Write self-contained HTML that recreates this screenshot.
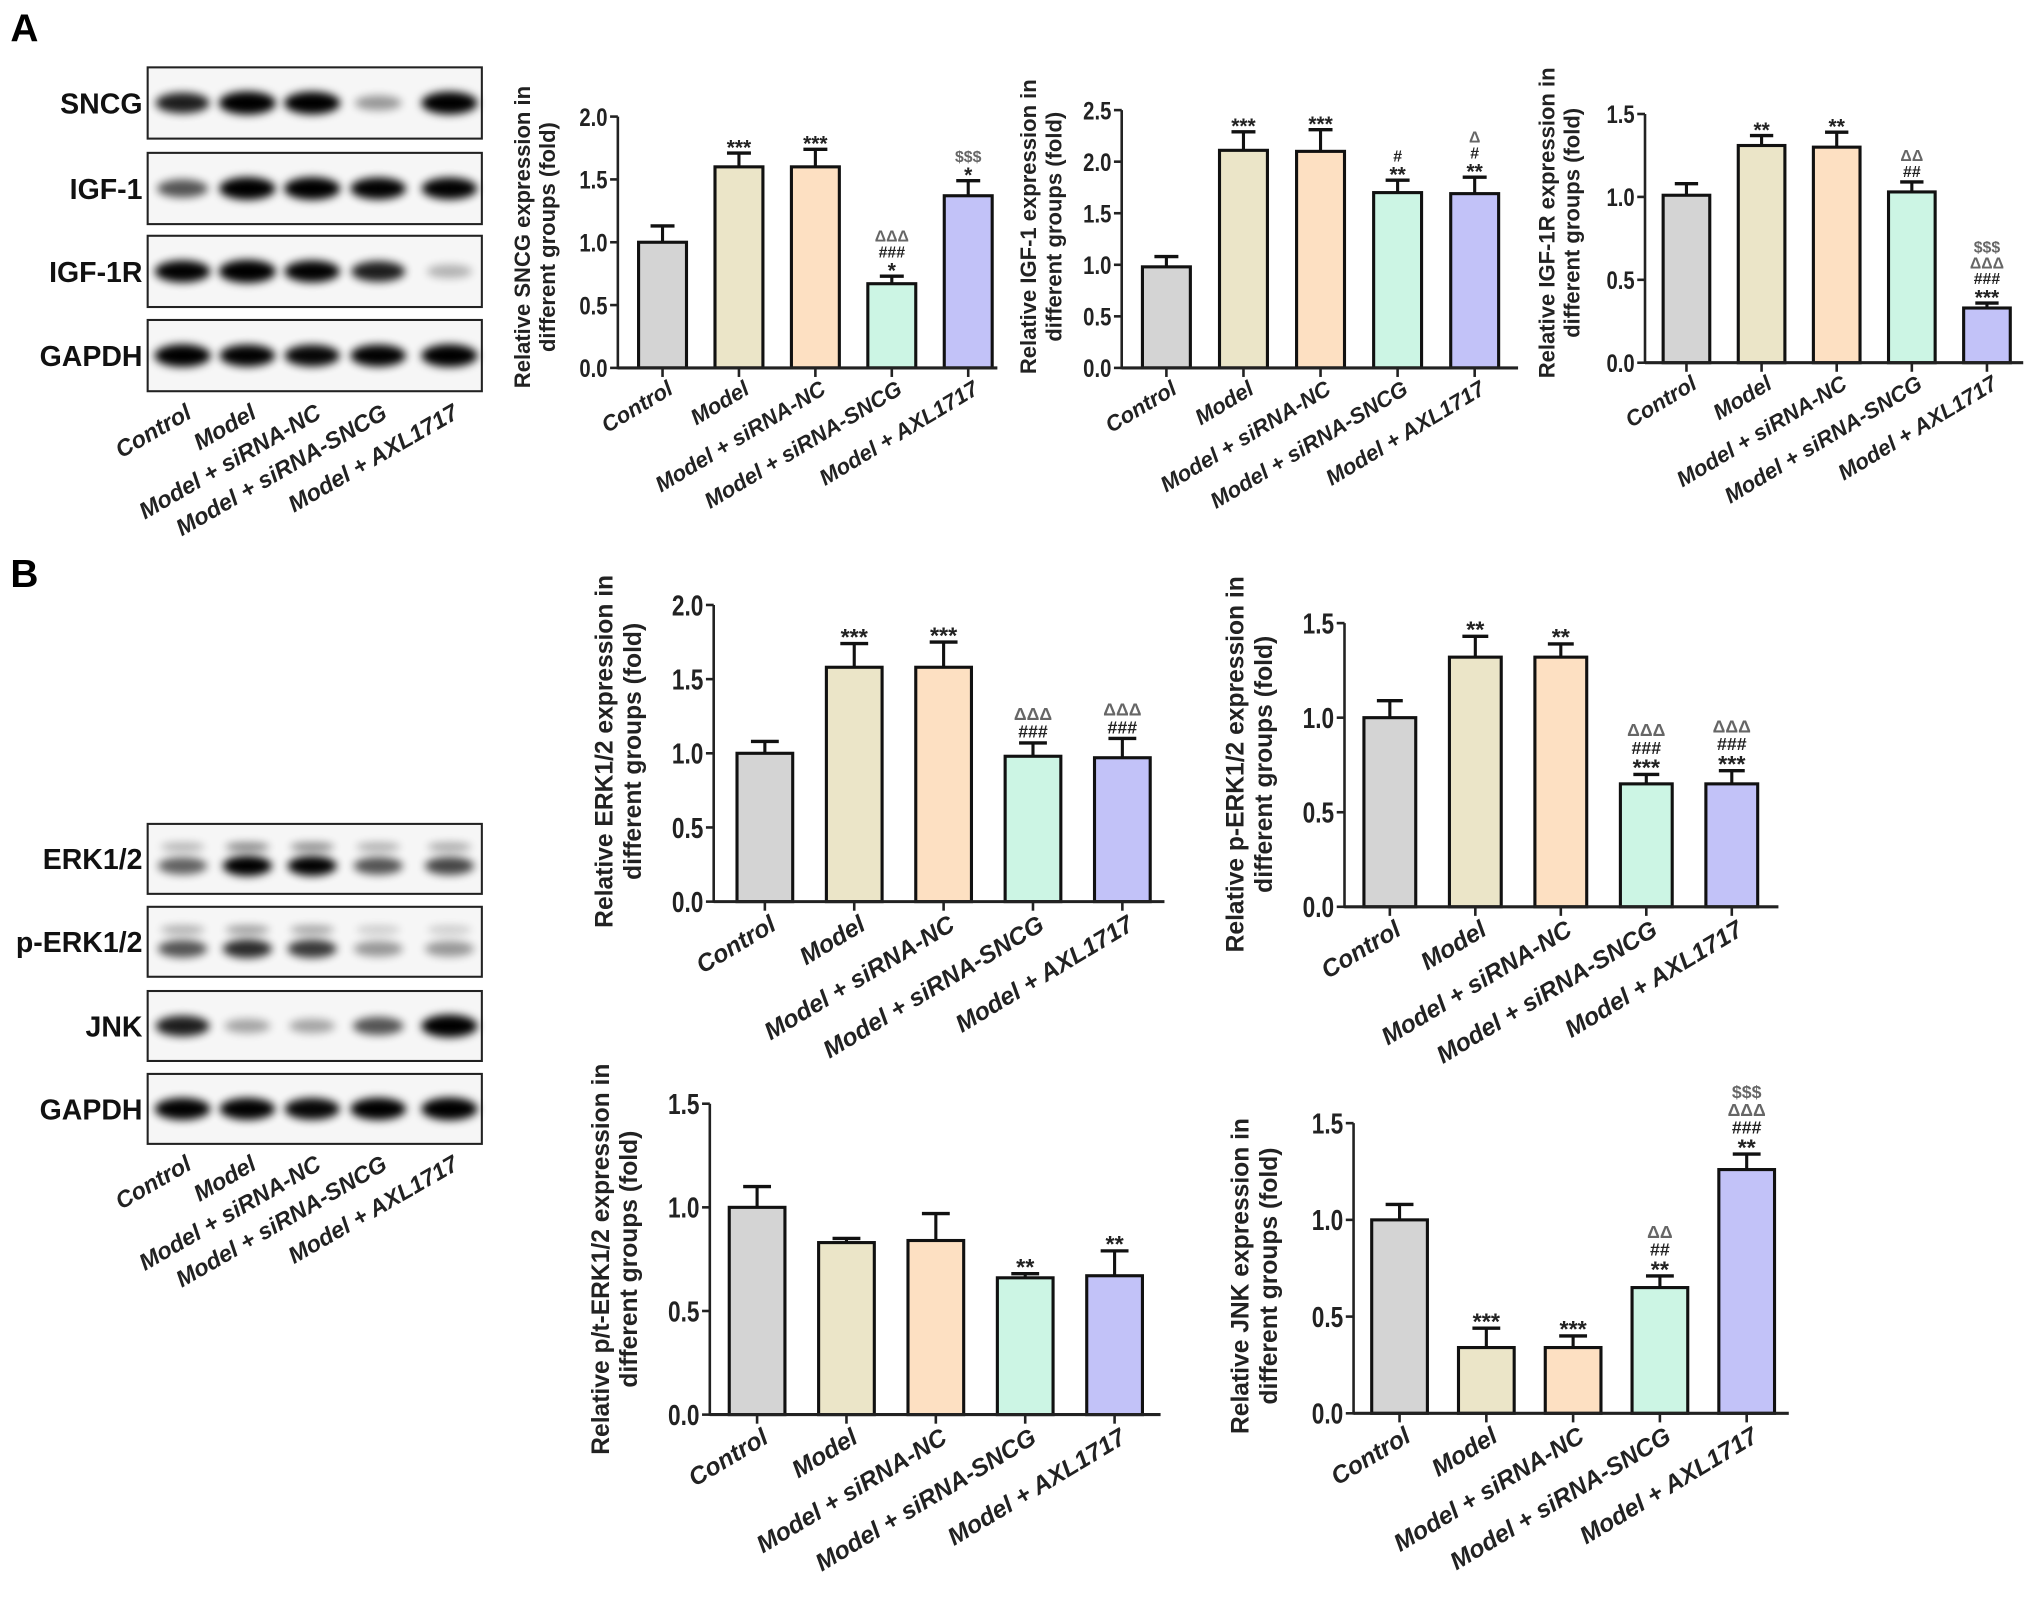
<!DOCTYPE html>
<html><head><meta charset="utf-8">
<style>
html,body{margin:0;padding:0;background:#fff;}
svg{display:block;}
text{font-family:"Liberation Sans",Arial,sans-serif;}
</style></head>
<body>
<svg id="fig" width="2031" height="1618" viewBox="0 0 1568 1249" preserveAspectRatio="none" xmlns="http://www.w3.org/2000/svg">
<defs><filter id="blur" x="-50%" y="-100%" width="200%" height="300%"><feGaussianBlur stdDeviation="3.2"/></filter></defs>
<text x="8" y="32" font-size="30" font-weight="bold">A</text>
<text x="8" y="453" font-size="30" font-weight="bold">B</text>
<g id="root"></g>
</svg>
<script>
const categories = ["Control","Model","Model + siRNA-NC","Model + siRNA-SNCG","Model + AXL1717"];
const colors = ["#d4d4d4","#ebe5c8","#fde0c2","#ccf5e4","#c2c2f8"];

const sncgValues = [1.0,1.6,1.6,0.67,1.37];
const sncgErrors = [1.13,1.71,1.74,0.73,1.49];
const sncgMarks = [[],["***"],["***"],["*","###","ΔΔΔ"],["*","$$$"]];
const sncgTicks = ["0.0","0.5","1.0","1.5","2.0"];

const igf1Values = [0.98,2.11,2.1,1.7,1.69];
const igf1Errors = [1.08,2.29,2.31,1.82,1.85];
const igf1Marks = [[],["***"],["***"],["**","#"],["**","#","Δ"]];
const igf1Ticks = ["0.0","0.5","1.0","1.5","2.0","2.5"];

const igf1rValues = [1.01,1.31,1.3,1.03,0.33];
const igf1rErrors = [1.08,1.37,1.39,1.09,0.36];
const igf1rMarks = [[],["**"],["**"],["##","ΔΔ"],["***","###","ΔΔΔ","$$$"]];
const igf1rTicks = ["0.0","0.5","1.0","1.5"];

const erkValues = [1.0,1.58,1.58,0.98,0.97];
const erkErrors = [1.08,1.74,1.75,1.07,1.1];
const erkMarks = [[],["***"],["***"],["###","ΔΔΔ"],["###","ΔΔΔ"]];
const erkTicks = ["0.0","0.5","1.0","1.5","2.0"];

const perkValues = [1.0,1.32,1.32,0.65,0.65];
const perkErrors = [1.09,1.43,1.39,0.7,0.72];
const perkMarks = [[],["**"],["**"],["***","###","ΔΔΔ"],["***","###","ΔΔΔ"]];
const perkTicks = ["0.0","0.5","1.0","1.5"];

const ratioValues = [1.0,0.83,0.84,0.66,0.67];
const ratioErrors = [1.1,0.85,0.97,0.68,0.79];
const ratioMarks = [[],[],[],["**"],["**"]];
const ratioTicks = ["0.0","0.5","1.0","1.5"];

const jnkValues = [1.0,0.34,0.34,0.65,1.26];
const jnkErrors = [1.08,0.44,0.4,0.71,1.34];
const jnkMarks = [[],["***"],["***"],["**","##","ΔΔ"],["**","###","ΔΔΔ","$$$"]];
const jnkTicks = ["0.0","0.5","1.0","1.5"];

const blotA = {SNCG:[0.8,1,0.95,0.35,0.95], "IGF-1":[0.6,0.95,0.95,0.9,0.9], "IGF-1R":[0.9,1,0.9,0.8,0.25], GAPDH:[0.95,0.9,0.88,0.9,0.95]};
const blotB = {"ERK1/2":[0.55,0.95,0.9,0.6,0.65], "p-ERK1/2":[0.6,0.75,0.7,0.35,0.35], JNK:[0.8,0.3,0.3,0.6,0.95], GAPDH:[0.9,0.9,0.88,0.92,0.95]};

const NS="http://www.w3.org/2000/svg";
const root=document.getElementById('root');
function mk(tag,attrs,parent){const e=document.createElementNS(NS,tag);for(const k in attrs)e.setAttribute(k,attrs[k]);(parent||root).appendChild(e);return e;}

function chart(o){
  const g=mk('g',{});
  
  
  const tmax=parseFloat(o.ticks[o.ticks.length-1]);
  const y=v=>o.y0-(v/tmax)*(o.y0-o.yTop);
  const x=i=>o.ax+o.off+o.sp*i+o.bw/2;
  o.values.forEach((v,i)=>{
    const top=y(o.errors[i]);
    const eb=mk('line',{x1:x(i),x2:x(i),y1:y(v),y2:top,stroke:'#111','stroke-width':2.4},g);
    
    
    mk('line',{x1:x(i)-o.bw*0.25,x2:x(i)+o.bw*0.25,y1:top,y2:top,stroke:'#111','stroke-width':2.6},g);
    const r=mk('rect',{x:x(i)-o.bw/2,y:y(v),width:o.bw,height:o.y0-y(v),fill:colors[i],stroke:'#111','stroke-width':2.4},g);
    
    
    let ly=top-4;
    o.marks[i].forEach(m=>{
      const star=m.indexOf('*')>=0;
      const t=mk('text',{x:x(i),y:star?ly+5:ly,'text-anchor':'middle','font-size':star?o.fs*0.95:o.fs*0.72,'font-weight':'bold',fill:star||m.indexOf('#')>=0?'#222':'#666'},g);
      t.textContent=m;
      
      
      ly-=star?o.fs*0.62:o.fs*0.72;
    });
  });
  mk('line',{x1:o.ax,x2:o.ax,y1:o.yTop,y2:o.y0+1,stroke:'#222','stroke-width':2},g);
  mk('line',{x1:o.ax,x2:o.ax+o.len,y1:o.y0,y2:o.y0,stroke:'#222','stroke-width':2.4},g);
  o.ticks.forEach(t=>{
    const yy=y(parseFloat(t));
    mk('line',{x1:o.ax-6,x2:o.ax,y1:yy,y2:yy,stroke:'#222','stroke-width':2},g);
    const fx=o.ax-8;
    const tl=mk('text',{x:fx,y:yy+o.fs*0.42,'text-anchor':'end','font-size':o.fs*1.15,'font-weight':'bold',fill:'#222',transform:`translate(${fx},0) scale(0.8,1) translate(${-fx},0)`},g);
    tl.textContent=t;
    
    
  });
  categories.forEach((c,i)=>{
    mk('line',{x1:x(i),x2:x(i),y1:o.y0,y2:o.y0+7,stroke:'#222','stroke-width':2},g);
    const tx=x(i)+3, ty=o.y0+o.fs+4;
    const t=mk('text',{x:tx,y:ty,'text-anchor':'end','font-size':o.fs,'font-weight':'bold','font-style':'italic',fill:'#222',transform:`rotate(-31 ${tx} ${ty-o.fs*0.7})`},g);
    t.textContent=c;
    
    
  });
  const cy=o.titleY;
  [o.title1,"different groups (fold)"].forEach((s,k)=>{
    const tx=o.titleX+k*o.fs*1.15;
    const t=mk('text',{x:tx,y:cy,'text-anchor':'middle','font-size':o.fs,'font-weight':'bold',fill:'#222',transform:`rotate(-90 ${tx} ${cy})`},g);
    t.textContent=s;
    
    
  });
}

function blot(o){
  const g=mk('g',{});
  
  
  const names=Object.keys(o.data);
  names.forEach((n,r)=>{
    const top=o.tops[r];
    const box=mk('rect',{x:o.x,y:top,width:o.w,height:o.h,fill:'#f6f6f6',stroke:'#222','stroke-width':1.6},g);
    
    
    const lab=mk('text',{x:o.x-4,y:top+o.h/2+8,'text-anchor':'end','font-size':22,'font-weight':'bold',fill:'#111'},g);
    lab.textContent=n;
    
    
    o.data[n].forEach((v,i)=>{
      const cx=o.lanes[i];
      const dbl=o.double&&o.double[n];
      if(dbl){
        mk('ellipse',{cx:cx,cy:top+o.h*0.33,rx:17,ry:3.5,fill:'#000',opacity:v*0.5,filter:'url(#blur)'},g);
        mk('ellipse',{cx:cx,cy:top+o.h*0.6,rx:19,ry:5+v*3,fill:'#000',opacity:Math.min(1,v*1.1),filter:'url(#blur)'},g);
      } else {
        mk('ellipse',{cx:cx,cy:top+o.h/2,rx:16+v*6,ry:4+v*5,fill:'#000',opacity:Math.min(1,v*1.1),filter:'url(#blur)'},g);
      }
    });
  });
  categories.forEach((c,i)=>{
    const tx=o.lanes[i]+o.lx, ty=o.ly;
    const t=mk('text',{x:tx,y:ty,'text-anchor':'end','font-size':18,'font-weight':'bold','font-style':'italic',fill:'#222',transform:`rotate(-30 ${tx} ${ty})`},g);
    t.textContent=c;
    
    
  });
}

blot({name:'blot-panel-a',data:blotA,x:114,w:258,h:55,tops:[52,118,182,247],lanes:[141,191,241,292,347],lx:8,ly:322});
blot({name:'blot-panel-b',data:blotB,x:114,w:258,h:54,tops:[636,700,765,829],lanes:[141,191,241,292,347],lx:8,ly:902,double:{"ERK1/2":1,"p-ERK1/2":1}});

chart({name:'sncg-chart',values:sncgValues,errors:sncgErrors,marks:sncgMarks,ticks:sncgTicks,ax:477,y0:284,yTop:90,off:16,sp:59,bw:37,len:293,fs:17,title1:"Relative SNCG expression in",titleX:409,titleY:183});
chart({name:'igf1-chart',values:igf1Values,errors:igf1Errors,marks:igf1Marks,ticks:igf1Ticks,ax:866,y0:284,yTop:85,off:16,sp:59.5,bw:37,len:306,fs:17,title1:"Relative IGF-1 expression in",titleX:800,titleY:175});
chart({name:'igf1r-chart',values:igf1rValues,errors:igf1rErrors,marks:igf1rMarks,ticks:igf1rTicks,ax:1270,y0:280,yTop:88,off:14,sp:58,bw:36,len:292,fs:17,title1:"Relative IGF-1R expression in",titleX:1200,titleY:172});
chart({name:'erk-chart',values:erkValues,errors:erkErrors,marks:erkMarks,ticks:erkTicks,ax:551,y0:696,yTop:467,off:18,sp:69,bw:43,len:348,fs:19,title1:"Relative ERK1/2 expression in",titleX:473,titleY:580});
chart({name:'perk-chart',values:perkValues,errors:perkErrors,marks:perkMarks,ticks:perkTicks,ax:1038,y0:700,yTop:481,off:15,sp:66,bw:40,len:335,fs:19,title1:"Relative p-ERK1/2 expression in",titleX:960,titleY:590});
chart({name:'p-t-erk-chart',values:ratioValues,errors:ratioErrors,marks:ratioMarks,ticks:ratioTicks,ax:548,y0:1092,yTop:852,off:15,sp:69,bw:43,len:348,fs:19,title1:"Relative p/t-ERK1/2 expression in",titleX:470,titleY:972});
chart({name:'jnk-chart',values:jnkValues,errors:jnkErrors,marks:jnkMarks,ticks:jnkTicks,ax:1045,y0:1091,yTop:867,off:14,sp:67,bw:43,len:336,fs:19,title1:"Relative JNK expression in",titleX:964,titleY:985});
</script>
</body></html>
